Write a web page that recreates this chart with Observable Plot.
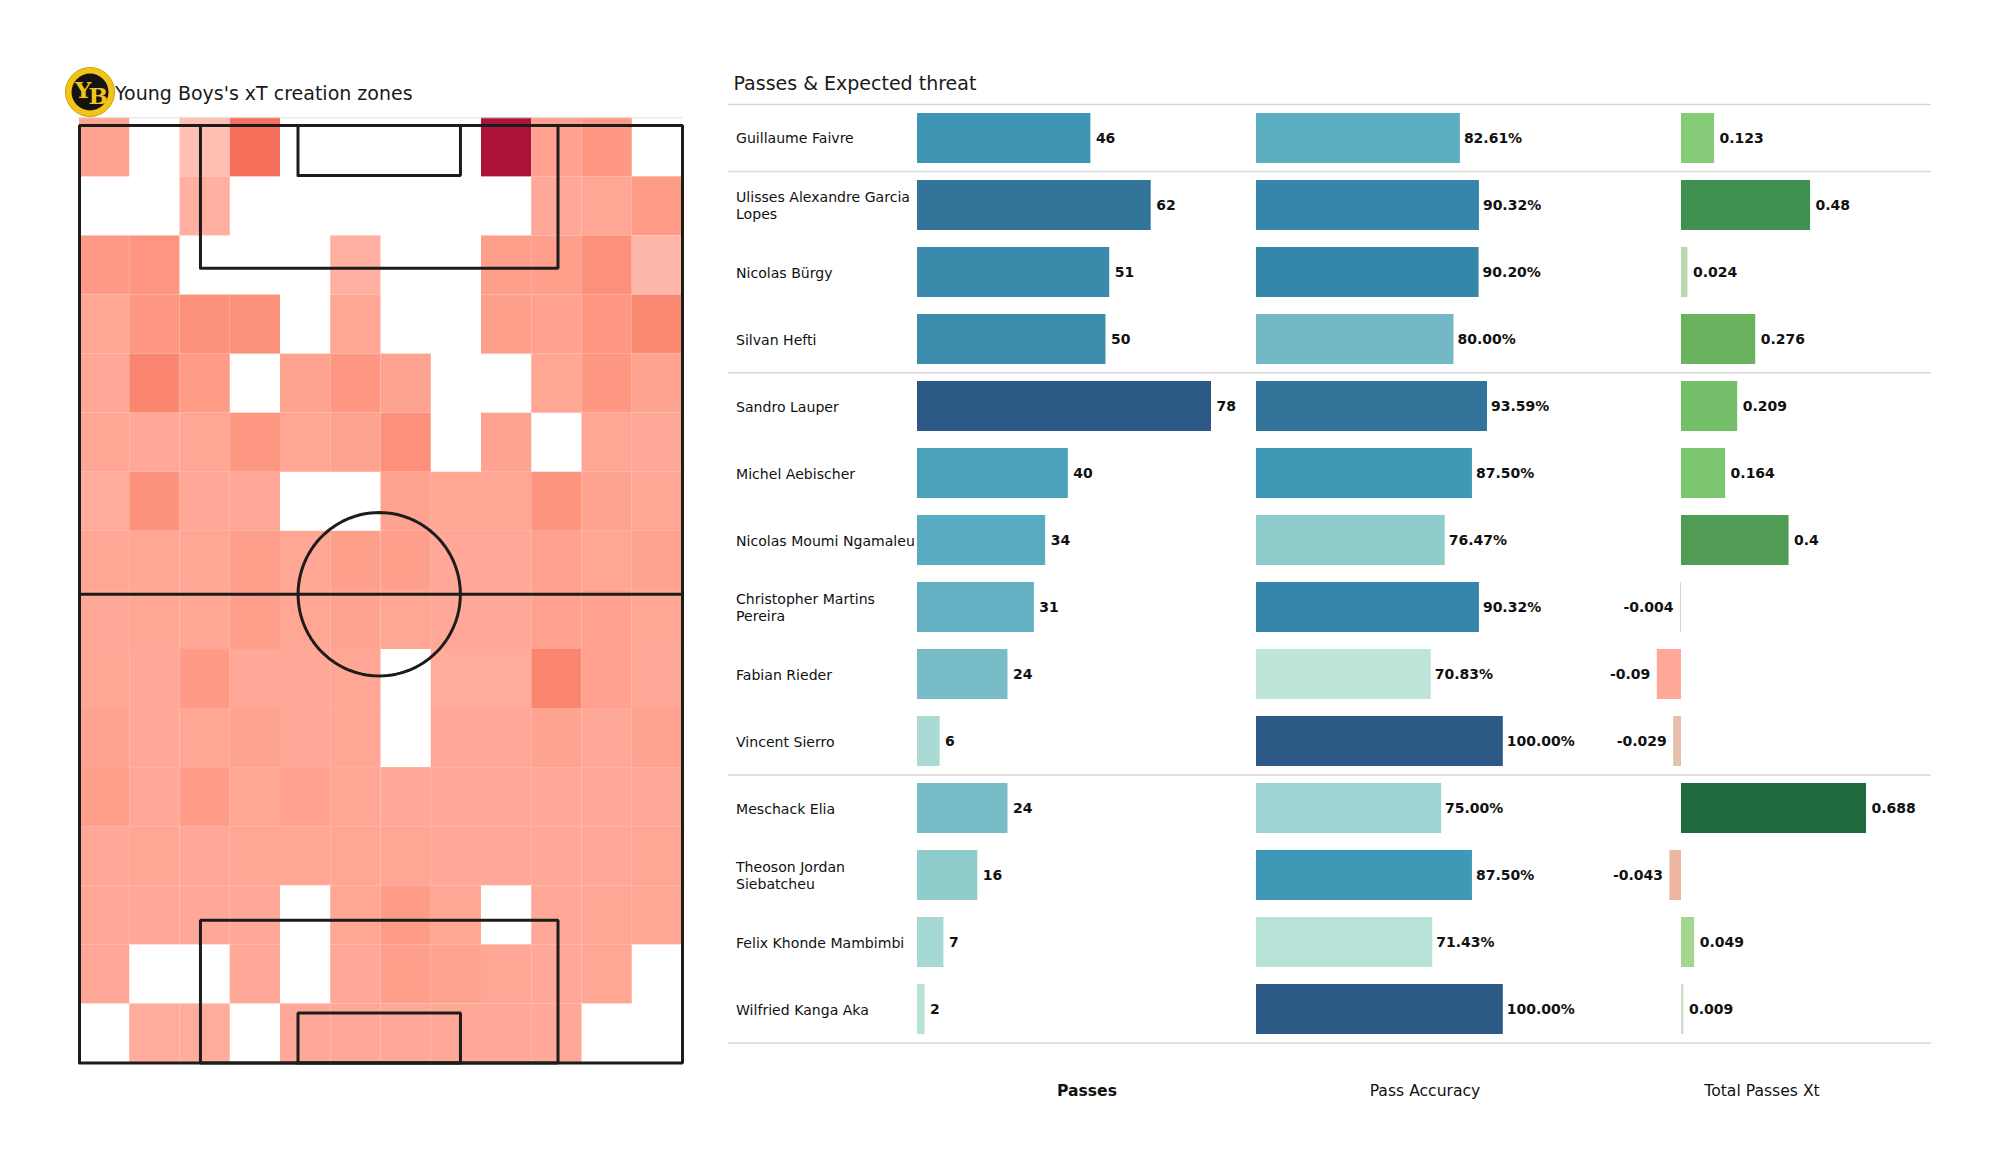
<!DOCTYPE html>
<html>
<head>
<meta charset="utf-8">
<script src="https://cdn.jsdelivr.net/npm/d3@7"></script>
<script src="https://cdn.jsdelivr.net/npm/@observablehq/plot@0.6"></script>
<style>
html,body{margin:0;padding:0;background:#fff;}
#page{position:relative;width:2000px;height:1175px;overflow:hidden;font-family:"DejaVu Sans",sans-serif;color:#111;}
.abs{position:absolute;}
.abs svg{display:block;overflow:visible;background:transparent;}
.title{font-size:19px;white-space:nowrap;line-height:1;color:#1a1a1a;}
.foot{font-size:15.6px;white-space:nowrap;transform:translateX(-50%);line-height:1;color:#111;}
</style>
</head>
<body>
<div id="page"></div>
<script>
// Pitch heat map: 16 rows (top to bottom) x 12 columns; null = no xT created there
const heatRows = [
  [16,null,8,42,null,null,null,null,100,17,21,null],
  [null,null,12,null,null,null,null,null,null,14,15,19],
  [20,23,null,null,null,12,null,null,18,18,26,10],
  [15,22,25,25,null,15,null,null,18,17,22,30],
  [14,32,19,null,16,21,16,null,null,15,21,16],
  [15,14,15,21,15,16,26,null,16,null,15,14],
  [13,25,14,14,null,null,16,15,15,24,16,15],
  [15,15,15,18,15,18,18,14,14,17,15,16],
  [14,15,15,18,15,16,15,14,14,17,17,15],
  [15,14,20,14,14,15,null,13,13,32,17,14],
  [16,14,15,16,14,15,null,14,14,16,14,16],
  [18,14,19,15,17,15,14,14,14,14,14,14],
  [14,15,14,15,15,15,15,14,14,14,14,15],
  [14,14,14,14,null,15,19,15,null,14,15,15],
  [14,null,null,14,null,14,18,16,15,14,15,null],
  [null,13,13,null,14,14,14,14,14,14,null,null]
];
const heatDomain = [8,14,20,30,42,100];
const heatRange  = ["#ffbfb2","#ffa897","#fe9a85","#fb8a73","#f66f5a","#ad1238"];

// Pitch markings, metres
const pitchLength = 105, pitchWidth = 68;
const boxDepth = 16, boxWidth = 40.32, sixDepth = 5.6, sixWidth = 18.32, circleRadius = 9.15;

// Player table
const players = ["Guillaume Faivre","Ulisses Alexandre Garcia\nLopes","Nicolas Bürgy","Silvan Hefti","Sandro Lauper","Michel Aebischer","Nicolas Moumi Ngamaleu","Christopher Martins\nPereira","Fabian Rieder","Vincent Sierro","Meschack Elia","Theoson Jordan\nSiebatcheu","Felix Khonde Mambimbi","Wilfried Kanga Aka"];
const passes   = [46,62,51,50,78,40,34,31,24,6,24,16,7,2];
const accuracy = [82.61,90.32,90.20,80.00,93.59,87.50,76.47,90.32,70.83,100,75,87.5,71.43,100];
const xThreat  = [0.123,0.48,0.024,0.276,0.209,0.164,0.4,-0.004,-0.09,-0.029,0.688,-0.043,0.049,0.009];
const separators = [0,1,4,10,14];
const columnTitles = ["Passes","Pass Accuracy","Total Passes Xt"];

const passDomain = [2,6,16,24,34,46,62,78];
const passRange  = ["#b8e2d8","#a9dad4","#8fcdcd","#78bcc8","#58abc0","#3e94b3","#33749b","#2c5985"];
const accDomain  = [70.83,71.43,75,76.47,80,82.61,87.5,90.3,93.59,100];
const accRange   = ["#bde5da","#b7e2d8","#9bd4d2","#8fcdcd","#73b9c5","#5eaec1","#3d99b6","#3586aa","#33749b","#2c5985"];
const xtDomain   = [-0.09,-0.043,-0.029,-0.004,0.009,0.024,0.049,0.123,0.164,0.209,0.276,0.4,0.48,0.688];
const xtRange    = ["#fea898","#ecb5a2","#e5c0ad","#dcd6c6","#cfdcc6","#b9d8ae","#a3d78f","#86cc78","#7dc670","#74bd69","#6ab25d","#519c54","#40904f","#21693f"];

const page = document.getElementById("page");
function place(node, left, top){
  const d = document.createElement("div");
  d.className = "abs"; d.style.left = left+"px"; d.style.top = top+"px";
  d.appendChild(node); page.appendChild(d); return d;
}
function label(text, left, top, cls, bold){
  const d = document.createElement("div");
  d.className = "abs "+cls; d.textContent = text;
  d.style.left = left+"px"; d.style.top = top+"px";
  if(bold) d.style.fontWeight = "bold";
  page.appendChild(d);
}

// ---------- Pitch ----------
const rowH = (pitchLength + 0.86) / heatRows.length;
const colW = pitchWidth / 12;
const cells = heatRows.flatMap((r,i)=>r.map((v,j)=>({v,
  x1:j*colW, x2:(j+1)*colW,
  y2:(heatRows.length-i)*rowH, y1:(heatRows.length-i-1)*rowH}))).filter(d=>d.v!==null);
const box = (x1,x2,y1,y2)=>[[x1,y1],[x2,y1],[x2,y2],[x1,y2],[x1,y1]];
const mid = pitchWidth/2 - 0.2;
const outlines = [
  box(0,pitchWidth,0,pitchLength),
  box(mid-boxWidth/2,mid+boxWidth/2,pitchLength-boxDepth,pitchLength),
  box(mid-boxWidth/2,mid+boxWidth/2,0,boxDepth),
  box(mid-sixWidth/2,mid+sixWidth/2,pitchLength-sixDepth,pitchLength),
  box(mid-sixWidth/2,mid+sixWidth/2,0,sixDepth),
  [[0,pitchLength/2],[pitchWidth,pitchLength/2]],
  d3.range(0,121).map(a=>[mid+circleRadius*Math.cos(a*Math.PI/60),pitchLength/2+circleRadius*Math.sin(a*Math.PI/60)])
];
const pitchPlot = Plot.plot({
  width:640, height:970, margin:0, style:{background:"transparent"},
  x:{domain:[0,pitchWidth], range:[19,622], axis:null},
  y:{domain:[0,pitchLength+0.86], range:[952.5,7.3], axis:null},
  color:{type:"linear", domain:heatDomain, range:heatRange, interpolate:"rgb"},
  marks:[
    Plot.rect(cells,{x1:"x1",x2:"x2",y1:"y1",y2:"y2",fill:"v",inset:0}),
    Plot.ruleY([pitchLength+0.86],{x1:0,x2:pitchWidth,stroke:"#e2e2e2",strokeWidth:1}),
    ...outlines.map(o=>Plot.line(o,{x:d=>d[0],y:d=>d[1],stroke:"#1c1c1c",strokeWidth:3,curve:"linear",strokeLinejoin:"miter"}))
  ]
});
place(pitchPlot,60,110);

// ---------- Crest ----------
const ns = "http://www.w3.org/2000/svg";
const crest = document.createElementNS(ns,"svg");
crest.setAttribute("width",56); crest.setAttribute("height",56); crest.setAttribute("viewBox","0 0 56 56");
crest.innerHTML = `<circle cx="28" cy="28" r="24.5" fill="#f2c417" stroke="#c9a010" stroke-width="1"/>
<circle cx="28" cy="28" r="18.5" fill="#15130f"/>
<text x="28" y="34" font-family="DejaVu Serif" font-weight="bold" font-size="23" letter-spacing="-3" fill="#f2c417" text-anchor="middle"><tspan>Y</tspan><tspan dy="6">B</tspan></text>`;
place(crest,62,64);

// ---------- Titles ----------
label("Young Boys's xT creation zones",115,84,"title");
label("Passes & Expected threat",733.5,74,"title");

// ---------- Table ----------
const rows = players.map((name,i)=>({name,i,passes:passes[i],accuracy:accuracy[i],xt:xThreat[i]}));
const tableTop = 104.4, tableH = 938.6;
place(Plot.plot({
  width:1203, height:tableH+4, margin:0, style:{background:"transparent"},
  x:{domain:[0,1203], range:[0,1203], axis:null},
  y:{domain:[0,14], range:[2,tableH+2], axis:null},
  marks:[
    Plot.ruleY(separators,{stroke:"#d9d9d9",strokeWidth:1.5}),
    Plot.text(rows,{x:()=>7.5,y:d=>d.i+0.5,text:"name",textAnchor:"start",lineAnchor:"middle",fontSize:14.1,lineHeight:1.2,fill:"#111",fontFamily:"DejaVu Sans"})
  ]
}),728,tableTop-2);

function barPanel(left,width,xDomain,xRange,key,cDomain,cRange,fmt,gap){
  const textOpts = {x:key,y:"name",text:d=>fmt(d[key]),fontSize:14,fontWeight:"bold",fill:"#111",fontFamily:"DejaVu Sans"};
  const p = Plot.plot({
    width, height:tableH, margin:0, style:{background:"transparent",overflow:"visible"},
    x:{domain:xDomain, range:xRange, axis:null},
    y:{domain:players, range:[0,tableH], paddingInner:0.25, paddingOuter:0.125, axis:null},
    color:{type:"linear", domain:cDomain, range:cRange, interpolate:"rgb"},
    marks:[
      Plot.barX(rows,{x1:()=>0,x2:key,y:"name",fill:key}),
      Plot.text(rows.filter(d=>d[key]>=0),{...textOpts,textAnchor:"start",dx:gap}),
      Plot.text(rows.filter(d=>d[key]<0),{...textOpts,textAnchor:"end",dx:-7})
    ]
  });
  place(p,left,tableTop);
}
barPanel(917,340,[0,78],[0,294],"passes",passDomain,passRange,d=>String(d),5);
barPanel(1256,340,[0,100],[0,246.8],"accuracy",accDomain,accRange,d=>d.toFixed(2)+"%",3.5);
barPanel(1560,371,[0,0.688],[121,306],"xt",xtDomain,xtRange,d=>String(d),5);

// ---------- Column titles ----------
label(columnTitles[0],1087,1084,"foot",true);
label(columnTitles[1],1425,1084,"foot");
label(columnTitles[2],1762,1084,"foot");
</script>
</body>
</html>
